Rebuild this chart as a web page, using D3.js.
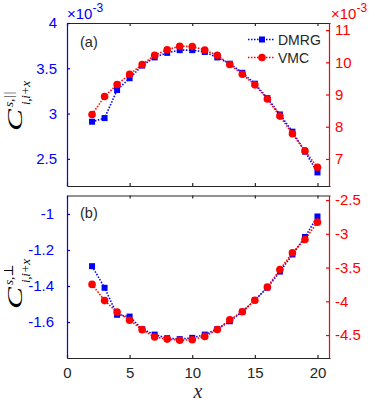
<!DOCTYPE html>
<html>
<head>
<meta charset="UTF-8">
<title>Spin correlations</title>
<style>
    body { margin: 0; background: #fff; }
    svg { display: block; }
    .tick text { font-family: 'Liberation Sans', Arial, sans-serif; font-size: 15px; }
    .lbl { font-family: 'Liberation Sans', Arial, sans-serif; }
    .math { font-family: 'Liberation Serif', 'DejaVu Serif', serif; font-style: italic; }
</style>
</head>
<body>
<svg width="374" height="402"></svg>
<script src="https://d3js.org/d3.v7.min.js"></script>
<script>
    // data
    let sites = [2, 3, 4, 5, 6, 7, 8, 9, 10, 11, 12, 13, 14, 15, 16, 17, 18, 19, 20];
    // parallel correlations, units of 1e-3
    let dmrgPar = [2.91, 2.95, 3.26, 3.39, 3.53, 3.62, 3.67, 3.70, 3.70, 3.68, 3.62, 3.55, 3.45, 3.33, 3.17, 2.99, 2.80, 2.58, 2.35];
    let vmcPar = [8.38, 8.94, 9.31, 9.63, 9.93, 10.22, 10.39, 10.50, 10.49, 10.38, 10.22, 9.93, 9.63, 9.30, 8.86, 8.33, 7.78, 7.25, 6.74];
    // perpendicular correlations
    let dmrgPerp = [-1.29, -1.41, -1.56, -1.57, -1.64, -1.67, -1.69, -1.695, -1.688, -1.67, -1.64, -1.596, -1.543, -1.479, -1.409, -1.32, -1.225, -1.128, -1.014];
    let vmcPerp = [-3.75, -3.99, -4.16, -4.28, -4.42, -4.53, -4.56, -4.576, -4.57, -4.52, -4.418, -4.274, -4.156, -3.984, -3.79, -3.53, -3.28, -3.084, -2.828];

    let xTicks = [0, 5, 10, 15, 20];
    let parLeftTicks = [2.5, 3, 3.5, 4];
    let parRightTicks = [7, 8, 9, 10, 11];
    let perpLeftTicks = [-1.6, -1.4, -1.2, -1];
    let perpRightTicks = [-4.5, -4, -3.5, -3, -2.5];
    let seriesNames = ["DMRG", "VMC"];

    let blue = "#0000ff", red = "#ff0000", dark = "#262626";
    let svg = d3.select("svg");

    let x = d3.scaleLinear().domain([0, 21]).range([67, 330]);

    function drawPanel(p) {
        let g = svg.append("g");
        let yL = d3.scaleLinear().domain(p.leftDomain).range([p.bottom, p.top]);
        let yR = d3.scaleLinear().domain(p.rightDomain).range([p.bottom, p.top]);

        // top and bottom borders with inward ticks
        g.append("g")
            .attr("transform", `translate(0,${p.top})`)
            .call(d3.axisTop(x).tickValues(xTicks).tickSize(-3).tickSizeOuter(0).tickFormat(""))
            .call(a => a.selectAll("path, line").attr("stroke", dark).attr("stroke-width", 1.2));
        let bx = g.append("g")
            .attr("transform", `translate(0,${p.bottom})`)
            .call(d3.axisBottom(x).tickValues(xTicks).tickSize(-3).tickSizeOuter(0).tickPadding(9)
                .tickFormat(p.showX ? d => String(d) : ""))
            .call(a => a.selectAll("path, line").attr("stroke", dark).attr("stroke-width", 1.2));
        bx.selectAll("text").attr("fill", dark);

        // left axis (DMRG)
        g.append("g")
            .attr("transform", `translate(${x.range()[0]},0)`)
            .call(d3.axisLeft(yL).tickValues(p.leftTicks).tickSize(-3).tickSizeOuter(0).tickPadding(p.padL)
                .tickFormat(d => String(d)))
            .call(a => a.selectAll("path, line").attr("stroke", blue).attr("stroke-width", 1.2))
            .call(a => a.selectAll("text").attr("fill", blue));

        // right axis (VMC)
        g.append("g")
            .attr("transform", `translate(${x.range()[1] - 1},0)`)
            .call(d3.axisRight(yR).tickValues(p.rightTicks).tickSize(-3).tickSizeOuter(0).tickPadding(6)
                .tickFormat(d => String(d)))
            .call(a => a.selectAll("path, line").attr("stroke", red).attr("stroke-width", 1.2))
            .call(a => a.selectAll("text").attr("fill", red));

        let lineL = d3.line().x((d, i) => x(sites[i])).y(d => yL(d));
        let lineR = d3.line().x((d, i) => x(sites[i])).y(d => yR(d));

        g.append("path").datum(p.dmrg)
            .attr("d", lineL).attr("fill", "none")
            .attr("stroke", blue).attr("stroke-width", 1.6).attr("stroke-dasharray", "1.5,1.5");
        g.append("g").selectAll("rect").data(p.dmrg).enter().append("rect")
            .attr("x", (d, i) => x(sites[i]) - 3)
            .attr("y", d => yL(d) - 3)
            .attr("width", 6).attr("height", 6)
            .attr("fill", blue);

        g.append("path").datum(p.vmc)
            .attr("d", lineR).attr("fill", "none")
            .attr("stroke", red).attr("stroke-width", 1.6).attr("stroke-dasharray", "1.5,1.5");
        g.append("g").selectAll("circle").data(p.vmc).enter().append("circle")
            .attr("cx", (d, i) => x(sites[i]))
            .attr("cy", d => yR(d))
            .attr("r", 3.8)
            .attr("fill", red);

        // panel tag
        g.append("text").attr("class", "lbl")
            .attr("x", 80).attr("y", p.tagY)
            .attr("font-size", 14.5).attr("fill", dark)
            .text(p.tag);

        // y label, rotated
        let yl = g.append("g").attr("transform", `translate(22,${p.labelY}) rotate(-90)`);
        yl.append("text").attr("class", "math")
            .attr("x", 0).attr("y", 0)
            .attr("font-size", 20)
            .attr("textLength", 22).attr("lengthAdjust", "spacingAndGlyphs")
            .text("C");
        yl.append("text").attr("class", "math")
            .attr("x", 24).attr("y", -9.5)
            .attr("font-size", 13)
            .text(p.sup);
        yl.append("text").attr("class", "math")
            .attr("x", 26).attr("y", 8)
            .attr("font-size", 13)
            .attr("textLength", 24).attr("lengthAdjust", "spacing")
            .text("i,i+x");
    }

    drawPanel({
        top: 23, bottom: 186,
        leftDomain: [2.2, 4.0], rightDomain: [6.16, 11.22],
        leftTicks: parLeftTicks, rightTicks: parRightTicks,
        dmrg: dmrgPar, vmc: vmcPar,
        padL: 10, showX: false,
        tag: "(a)", tagY: 47, labelY: 131, sup: "s,||"
    });
    drawPanel({
        top: 195.5, bottom: 358,
        leftDomain: [-1.8, -0.8975], rightDomain: [-4.84, -2.433],
        leftTicks: perpLeftTicks, rightTicks: perpRightTicks,
        dmrg: dmrgPerp, vmc: vmcPerp,
        padL: 13, showX: true,
        tag: "(b)", tagY: 218, labelY: 309, sup: "s,\u22A5"
    });

    // exponent labels
    let expL = svg.append("text").attr("class", "lbl").attr("x", 67).attr("y", 18.5)
        .attr("fill", blue).attr("font-size", 15);
    expL.append("tspan").text("\u00D710");
    expL.append("tspan").attr("dy", -7).attr("font-size", 12).text("-3");
    let expR = svg.append("text").attr("class", "lbl").attr("x", 331).attr("y", 18.5)
        .attr("fill", red).attr("font-size", 15);
    expR.append("tspan").text("\u00D710");
    expR.append("tspan").attr("dy", -7).attr("font-size", 12).text("-3");

    // legend
    let legend = svg.append("g");
    let legendColors = [blue, red];
    let legendY = [39.5, 57.5];
    seriesNames.forEach((name, i) => {
        let row = legend.append("g").attr("transform", `translate(0,${legendY[i]})`);
        row.append("line")
            .attr("x1", 248).attr("x2", 275).attr("y1", 0).attr("y2", 0)
            .attr("stroke", legendColors[i]).attr("stroke-width", 1.6).attr("stroke-dasharray", "1.5,1.5");
        if (i === 0) {
            row.append("rect").attr("x", 259).attr("y", -3).attr("width", 6).attr("height", 6).attr("fill", blue);
        } else {
            row.append("circle").attr("cx", 262).attr("cy", 0).attr("r", 3.8).attr("fill", red);
        }
        row.append("text").attr("class", "lbl")
            .attr("x", 278).attr("y", 5)
            .attr("font-size", 14).attr("fill", dark)
            .text(name);
    });

    // x label
    svg.append("text").attr("class", "math")
        .attr("x", 198).attr("y", 398)
        .attr("text-anchor", "middle")
        .attr("font-size", 20).attr("fill", dark)
        .text("x");
</script>
</body>
</html>
